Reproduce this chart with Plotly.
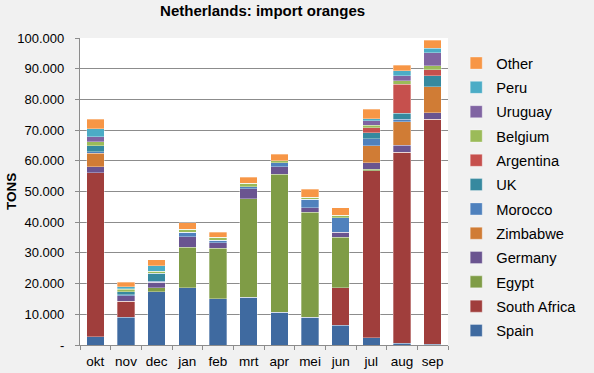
import plotly.graph_objects as go

months = ["okt", "nov", "dec", "jan", "feb", "mrt", "apr", "mei", "jun", "jul", "aug", "sep"]

spain        = [2700, 9000, 17400, 18700, 15000, 15500, 10600, 9000, 6400, 2300, 600, 300]
south_africa = [53400, 5300, 0, 0, 0, 0, 0, 0, 12300, 54500, 62200, 73200]
egypt        = [0, 0, 1300, 13100, 16500, 32200, 45000, 34200, 16400, 500, 0, 0]
germany      = [2000, 1800, 1700, 3500, 1800, 3200, 2500, 1500, 1600, 2100, 2300, 2200]
zimbabwe     = [4300, 0, 0, 0, 0, 0, 0, 0, 0, 5500, 7600, 8400]
morocco      = [500, 300, 400, 1500, 900, 700, 1300, 2800, 4800, 2300, 800, 0]
uk           = [2000, 1000, 2500, 0, 0, 0, 0, 0, 0, 2000, 2000, 3600]
argentina    = [0, 0, 0, 0, 0, 0, 0, 0, 0, 1600, 9500, 1900]
belgium      = [1300, 700, 800, 900, 900, 1100, 600, 600, 800, 800, 1000, 1300]
uruguay      = [1700, 300, 0, 0, 0, 0, 0, 0, 0, 1500, 1700, 4300]
peru         = [2500, 600, 1700, 0, 0, 0, 0, 0, 0, 600, 1600, 1400]
other        = [3100, 1500, 1900, 2100, 1700, 2000, 2200, 2700, 2400, 3100, 1900, 2700]

series_names = ["Spain", "South Africa", "Egypt", "Germany", "Zimbabwe", "Morocco",
                "UK", "Argentina", "Belgium", "Uruguay", "Peru", "Other"]
series_values = [spain, south_africa, egypt, germany, zimbabwe, morocco,
                 uk, argentina, belgium, uruguay, peru, other]
colors = ["#3F6AA0", "#A03E3C", "#7F9C46", "#6A5490", "#D07C35", "#4F81BD",
          "#36899F", "#C6504D", "#9BBB59", "#8064A2", "#4BACC6", "#F79646"]

y_tickvals = [0, 10000, 20000, 30000, 40000, 50000, 60000, 70000, 80000, 90000, 100000]
y_ticktext = ["-", "10.000", "20.000", "30.000", "40.000", "50.000",
              "60.000", "70.000", "80.000", "90.000", "100.000"]

FONT = "Arial, Liberation Sans, sans-serif"

fig = go.Figure()
for i, (name, vals, col) in enumerate(zip(series_names, series_values, colors)):
    fig.add_trace(go.Bar(
        x=months, y=vals, name=name, legendgroup=name, legendrank=1000 - i,
        marker=dict(color=col, line=dict(color="rgba(255,255,255,0.45)", width=0.7)),
    ))

W, H = 594, 373
L, R, T, B = 80, 111, 38, 28
PW, PH = W - L - R, H - T - B

fig.update_layout(
    width=W, height=H,
    barmode="stack", bargap=0.43,
    paper_bgcolor="#F1F1F1", plot_bgcolor="#FFFFFF",
    margin=dict(l=L, r=R, t=T, b=B, pad=0),
    font=dict(family=FONT, size=12, color="#000000"),
    title=dict(text="<b>Netherlands: import oranges</b>", font=dict(size=15, family=FONT),
               x=(280 - L) / PW, xref="paper", xanchor="center",
               y=1 - 11 / H, yref="container", yanchor="middle"),
    legend=dict(traceorder="grouped", font=dict(size=14.7, family=FONT),
                x=(492 - L) / PW, xanchor="left", y=1 - (47 - T) / PH, yanchor="top",
                bgcolor="rgba(0,0,0,0)", tracegroupgap=2.2, itemclick=False),
    showlegend=True,
)
try:
    fig.update_layout(legend_maxheight=360)
except Exception:
    pass
fig.update_xaxes(showline=True, linecolor="#8C8C8C", linewidth=1.3,
                 ticks="outside", tickson="boundaries", ticklen=4, tickcolor="#8C8C8C",
                 tickangle=0, ticklabelstandoff=4, automargin=False,
                 tickfont=dict(size=13.5, family=FONT), showgrid=False)
fig.update_yaxes(range=[0, 100000], tickvals=y_tickvals, ticktext=y_ticktext,
                 showline=True, linecolor="#8C8C8C", linewidth=1.3,
                 ticks="outside", ticklen=4, tickcolor="#8C8C8C",
                 ticklabelstandoff=8, automargin=False,
                 showgrid=True, gridcolor="#8C8C8C", gridwidth=1.3,
                 zeroline=False, tickfont=dict(size=13, family=FONT))
fig.add_annotation(text="<b>TONS</b>", textangle=-90, xref="paper", yref="paper",
                   x=-(L - 5) / PW, y=0.5, xanchor="center", yanchor="middle",
                   showarrow=False, font=dict(size=13.5, family=FONT))

fig.write_html("out.html", config={"displayModeBar": False},
               post_script="document.body.style.margin='0px';")
